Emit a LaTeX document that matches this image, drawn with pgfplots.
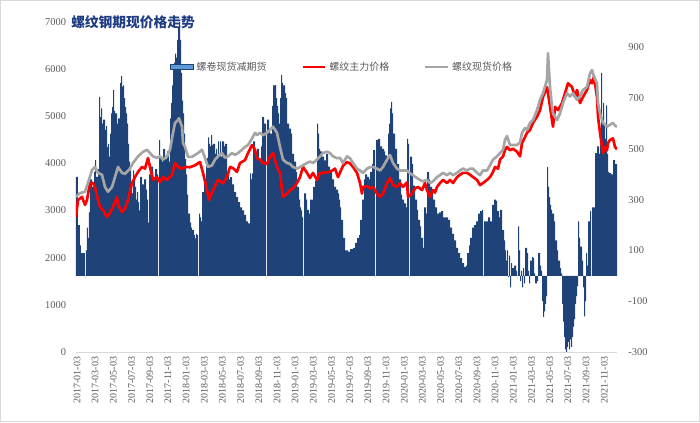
\documentclass[border=0pt]{standalone}
\usepackage{pgfplots}
\pgfplotsset{compat=1.18}
\usepackage{fontspec}
\setmainfont{Liberation Serif}
\newfontfamily\cjk{Noto Sans CJK SC}
\definecolor{navy}{RGB}{31,66,120}
\definecolor{barlight}{RGB}{91,155,213}
\definecolor{tickgray}{RGB}{89,89,89}
\definecolor{spotgray}{RGB}{165,165,165}
\definecolor{titleblue}{RGB}{31,60,130}
\definecolor{axisgray}{RGB}{217,217,217}
\begin{document}
\begin{tikzpicture}[x=0.75pt,y=0.75pt]
\pgfplotsset{
  base/.style={
    at={(0,0)}, anchor=south west, scale only axis,
    width=405.75pt, height=247.5pt,
    xmin=-0.11, xmax=59.4,
    /pgf/number format/assume math mode=true,
    /pgf/number format/1000 sep={},
    tick style={draw=none},
    tick label style={font=\fontsize{7.8}{9}\selectfont, text=tickgray},
  }
}
% right axis: basis (spot minus futures)
\begin{axis}[base,
  ymin=-300, ymax=1000,
  ytick={-300,-100,100,300,500,700,900},
  axis x line=none,
  axis y line*=right,
  y axis line style={draw=none},
  yticklabel style={xshift=5pt, anchor=west},
]
\addplot[const plot, fill=navy, draw=none] coordinates {
(-0.11,390)(0.11,200)(0.22,200)(0.33,120)(0.44,90)(0.66,90)(0.88,0)(0.99,100)(1.10,190)(1.21,150)(1.32,250)(1.43,380)(1.65,350)(1.87,410)(1.98,456)(2.09,390)(2.31,420)(2.42,705)(2.53,625)(2.64,660)(2.75,600)(2.86,615)(3.08,575)(3.19,590)(3.30,507)(3.41,520)(3.52,470)(3.63,560)(3.74,640)(3.85,665)(3.96,732)(4.07,650)(4.18,640)(4.40,600)(4.51,620)(4.73,760)(4.84,787)(4.95,745)(5.06,750)(5.17,700)(5.28,665)(5.39,640)(5.50,600)(5.61,520)(5.72,450)(5.83,415)(5.94,360)(6.05,325)(6.16,415)(6.27,380)(6.38,350)(6.49,300)(6.60,330)(6.71,290)(6.82,258)(6.93,390)(7.15,360)(7.37,380)(7.59,340)(7.70,300)(7.81,210)(7.92,400)(8.14,430)(8.36,390)(8.58,420)(8.80,400)(8.91,0)(9.02,535)(9.13,470)(9.35,450)(9.46,500)(9.68,460)(9.90,490)(10.12,450)(10.23,620)(10.34,680)(10.45,750)(10.56,810)(10.67,840)(10.78,875)(10.89,860)(11.00,930)(11.11,980)(11.22,1000)(11.33,930)(11.44,800)(11.55,690)(11.66,640)(11.77,560)(11.88,460)(11.99,400)(12.10,320)(12.21,245)(12.43,210)(12.54,190)(12.65,180)(12.87,160)(12.98,148)(13.09,165)(13.20,160)(13.31,0)(13.42,245)(13.53,230)(13.64,215)(13.75,330)(13.97,380)(14.19,440)(14.30,465)(14.41,545)(14.52,520)(14.63,510)(14.74,555)(14.85,515)(14.96,520)(15.18,480)(15.29,500)(15.40,460)(15.51,530)(15.62,480)(15.73,530)(15.84,470)(15.95,530)(16.17,510)(16.28,520)(16.50,400)(16.72,380)(16.83,389)(17.05,360)(17.27,330)(17.49,310)(17.71,290)(17.93,270)(18.15,258)(18.37,240)(18.59,215)(18.81,207)(19.03,404)(19.14,380)(19.25,404)(19.36,530)(19.58,480)(19.80,500)(20.02,460)(20.24,510)(20.35,625)(20.57,600)(20.79,0)(20.90,615)(21.12,580)(21.23,560)(21.45,670)(21.56,750)(21.78,751)(21.89,700)(22.00,670)(22.11,640)(22.22,600)(22.33,700)(22.44,791)(22.55,760)(22.66,750)(22.88,720)(22.99,700)(23.10,600)(23.32,580)(23.54,560)(23.65,480)(23.87,450)(24.09,410)(24.20,350)(24.42,300)(24.53,270)(24.64,258)(24.75,230)(24.86,0)(24.97,325)(25.19,300)(25.30,260)(25.52,245)(25.63,300)(25.85,300)(25.96,350)(26.18,375)(26.40,600)(26.51,560)(26.62,500)(26.73,490)(26.95,470)(27.17,455)(27.39,480)(27.61,430)(27.83,410)(28.05,380)(28.27,350)(28.49,340)(28.71,325)(28.82,300)(28.93,270)(29.04,220)(29.26,150)(29.48,100)(29.81,95)(30.03,105)(30.36,110)(30.58,130)(30.80,150)(31.02,160)(31.13,220)(31.35,300)(31.57,380)(31.68,400)(31.90,390)(32.12,380)(32.23,410)(32.45,440)(32.56,495)(32.78,0)(32.89,535)(33.11,540)(33.33,510)(33.55,500)(33.77,490)(33.88,475)(34.10,450)(34.21,560)(34.32,600)(34.43,660)(34.54,685)(34.65,640)(34.76,560)(34.98,500)(35.20,440)(35.42,380)(35.64,320)(35.75,300)(35.97,285)(36.19,270)(36.30,540)(36.41,520)(36.52,0)(36.63,470)(36.85,440)(36.96,355)(37.18,300)(37.40,260)(37.51,220)(37.73,195)(37.84,150)(38.06,110)(38.17,270)(38.39,245)(38.50,410)(38.72,380)(38.83,350)(39.05,325)(39.16,300)(39.38,270)(39.60,245)(39.82,250)(40.04,255)(40.26,230)(40.59,230)(40.81,220)(41.03,190)(41.25,165)(41.47,140)(41.69,110)(41.91,90)(42.13,70)(42.35,50)(42.57,35)(42.79,40)(42.90,90)(43.12,120)(43.23,150)(43.45,190)(43.67,200)(43.89,215)(44.11,245)(44.33,255)(44.55,260)(44.66,0)(44.77,215)(44.99,215)(45.21,230)(45.43,215)(45.65,280)(45.87,300)(46.09,295)(46.20,255)(46.42,230)(46.53,260)(46.75,180)(46.97,140)(47.08,100)(47.19,60)(47.30,100)(47.41,-5)(47.52,80)(47.63,-45)(47.74,50)(47.85,30)(48.07,40)(48.18,40)(48.29,20)(48.40,0)(48.51,195)(48.62,100)(48.73,-20)(48.84,20)(48.95,-45)(49.06,30)(49.17,-30)(49.28,110)(49.50,90)(49.61,20)(49.72,-30)(49.83,60)(50.05,75)(50.16,70)(50.27,10)(50.38,-30)(50.60,-20)(50.71,90)(50.93,40)(51.04,20)(51.15,-100)(51.26,-162)(51.37,-140)(51.48,-110)(51.59,-80)(51.70,428)(51.81,350)(51.92,310)(52.03,280)(52.14,260)(52.25,245)(52.47,215)(52.58,140)(52.80,100)(52.91,60)(53.13,30)(53.24,10)(53.35,-110)(53.46,-180)(53.57,-240)(53.68,-290)(53.79,-300)(53.90,-280)(54.01,-260)(54.12,-290)(54.23,-250)(54.34,-280)(54.45,-240)(54.56,-200)(54.67,-170)(54.78,-110)(54.89,-80)(55.00,-40)(55.11,215)(55.22,150)(55.33,115)(55.55,60)(55.66,-45)(55.77,-160)(55.88,-100)(55.99,90)(56.10,40)(56.21,215)(56.43,255)(56.54,0)(56.65,270)(56.87,270)(56.98,483)(57.20,510)(57.42,480)(57.53,570)(57.64,800)(57.75,610)(57.86,680)(57.97,600)(58.08,540)(58.19,672)(58.30,480)(58.41,410)(58.52,405)(58.74,400)(58.96,456)(59.18,440)(59.40,440)
} \closedcycle;
\end{axis}
% left axis: prices
\begin{axis}[base,
  ymin=0, ymax=7000,
  ytick={0,1000,...,7000},
  axis x line*=bottom, axis y line*=left,
  y axis line style={draw=none},
  x axis line style={draw=axisgray, line width=0.75pt},
  xtick={0,2,...,58},
  xticklabels={2017-01-03,2017-03-03,2017-05-03,2017-07-03,2017-09-03,2017-11-03,2018-01-03,2018-03-03,2018-05-03,2018-07-03,2018-09-03,2018-11-03,2019-01-03,2019-03-03,2019-05-03,2019-07-03,2019-09-03,2019-11-03,2020-01-03,2020-03-03,2020-05-03,2020-07-03,2020-09-03,2020-11-03,2021-01-03,2021-03-03,2021-05-03,2021-07-03,2021-09-03,2021-11-03},
  xticklabel style={rotate=90, anchor=east, font=\fontsize{7.5}{9}\selectfont},
  yticklabel style={xshift=-4pt},
  legend columns=3,
  legend style={at={(0.174,0.864)}, anchor=west, draw=none, fill=none, inner sep=0pt,
    font=\cjk\fontsize{7.5}{9}\selectfont, text=tickgray,
    /tikz/every even column/.append style={column sep=24pt}},
]
\addlegendimage{legend image code/.code={\draw[fill=barlight, draw=navy, line width=0.6pt] (0pt,-2.2pt) rectangle (17pt,2.2pt);}}
\addlegendentry{螺卷现货减期货}
\addplot[red, line width=2pt, line join=round] coordinates {
(-0.11,2864)(0.11,3225)(0.55,3290)(0.88,3120)(1.10,3225)(1.43,3585)(1.76,3585)(1.98,3500)(2.31,3225)(2.53,3080)(2.86,3010)(3.30,2865)(3.63,2950)(3.96,3080)(4.40,3290)(4.51,3120)(4.95,2970)(5.28,3040)(5.61,3225)(6.05,3585)(6.38,3710)(6.71,3820)(7.15,3925)(7.48,3890)(7.81,4115)(8.03,3925)(8.36,3650)(8.80,3710)(9.13,3600)(9.46,3710)(9.90,3650)(10.45,3760)(10.78,4010)(11.11,3925)(11.55,3890)(11.88,3925)(12.43,3920)(12.98,3960)(13.53,4030)(13.86,3800)(14.30,3435)(14.52,3225)(14.96,3435)(15.51,3650)(16.06,3580)(16.50,3710)(16.83,3925)(17.16,3900)(17.60,3820)(17.93,4010)(18.48,4070)(18.81,4220)(19.25,4390)(19.58,4290)(19.80,4115)(20.13,4080)(20.46,4010)(20.90,3990)(21.23,4140)(21.56,4220)(22.00,3925)(22.33,3800)(22.55,3435)(22.66,3290)(23.10,3360)(23.43,3435)(23.76,3470)(24.20,3585)(24.53,3710)(24.86,3925)(25.30,3800)(25.63,3690)(25.96,3800)(26.40,3650)(26.73,3800)(27.06,3800)(27.83,3820)(28.38,3890)(28.71,3710)(29.26,3950)(29.70,4030)(30.03,4000)(30.36,3925)(30.80,3800)(31.13,3585)(31.35,3360)(31.46,3500)(31.90,3520)(32.23,3470)(32.56,3500)(33.00,3360)(33.33,3290)(33.66,3360)(34.10,3585)(34.43,3690)(34.76,3540)(35.20,3500)(35.53,3585)(35.86,3500)(36.30,3600)(36.41,3290)(36.85,3360)(37.18,3470)(37.51,3500)(37.95,3435)(38.28,3585)(38.50,3435)(38.83,3290)(39.16,3435)(39.38,3380)(39.60,3500)(39.93,3585)(40.26,3650)(40.70,3585)(41.03,3650)(41.36,3585)(41.80,3710)(42.13,3760)(42.46,3800)(42.90,3800)(43.23,3760)(43.56,3710)(44.00,3650)(44.33,3540)(44.66,3585)(45.10,3650)(45.43,3710)(45.76,3820)(45.98,3925)(46.31,3890)(46.53,4080)(46.86,4150)(47.08,4285)(47.30,4350)(47.63,4280)(47.96,4310)(48.40,4250)(48.73,4150)(48.95,4430)(49.28,4560)(49.50,4650)(49.83,4710)(50.16,4860)(50.60,4990)(50.93,5130)(51.26,5410)(51.70,5620)(51.92,5350)(52.25,4920)(52.36,4780)(52.58,5200)(52.91,5130)(53.35,5280)(53.68,5490)(54.01,5700)(54.45,5620)(54.78,5410)(55.00,5560)(55.33,5280)(55.66,5410)(56.10,5560)(56.43,5770)(56.65,5700)(56.87,5840)(57.20,5410)(57.31,4990)(57.53,4650)(57.75,4350)(57.86,4220)(58.08,4350)(58.30,4280)(58.41,4430)(58.63,4500)(58.96,4530)(59.18,4350)(59.40,4300)
};
\addlegendentry{螺纹主力价格}
\addplot[spotgray, line width=2pt, line join=round] coordinates {
(-0.11,3290)(0.33,3370)(0.88,3400)(1.21,3585)(1.65,3860)(1.98,3925)(2.31,3800)(2.75,3760)(3.08,3500)(3.41,3400)(3.85,3500)(4.18,3710)(4.51,3925)(4.95,3800)(5.28,3780)(5.83,3890)(6.16,4010)(6.71,4150)(7.26,4245)(7.70,4290)(8.03,4220)(8.36,4150)(8.80,4120)(9.13,4150)(9.46,4080)(9.90,4150)(10.23,4290)(10.56,4650)(10.78,4860)(11.11,4920)(11.22,4960)(11.55,4780)(11.66,4430)(11.88,4350)(12.21,4140)(12.65,4140)(12.98,4180)(13.31,4220)(13.75,4290)(14.08,4120)(14.41,3925)(14.85,3960)(15.18,4080)(15.51,4150)(15.95,4220)(16.28,4120)(16.61,4150)(17.05,4220)(17.38,4180)(17.71,4220)(18.15,4290)(18.48,4350)(18.81,4390)(19.25,4530)(19.58,4650)(19.80,4600)(20.13,4650)(20.46,4600)(20.90,4650)(21.23,4710)(21.56,4780)(22.00,4650)(22.33,4350)(22.66,4080)(23.10,4010)(23.43,3990)(23.76,3925)(24.20,3890)(24.53,3925)(24.86,3960)(25.30,4010)(25.63,4040)(25.96,4010)(26.40,4080)(26.73,4150)(27.06,4220)(27.50,4250)(27.83,4220)(28.16,4150)(28.60,4110)(28.93,4120)(29.26,4010)(29.70,4150)(30.03,4110)(30.36,4010)(30.80,3890)(31.13,3850)(31.46,3800)(31.90,3890)(32.23,3920)(32.56,3925)(33.00,3890)(33.33,3850)(33.66,3925)(34.10,4080)(34.43,4180)(34.76,4010)(35.20,3890)(35.53,3850)(35.86,3850)(36.30,3850)(36.63,3790)(36.96,3750)(37.40,3690)(37.73,3650)(38.06,3620)(38.50,3650)(38.83,3585)(39.16,3620)(39.60,3710)(39.93,3750)(40.26,3800)(40.70,3750)(41.03,3800)(41.36,3750)(41.80,3800)(42.13,3850)(42.46,3890)(42.90,3850)(43.23,3890)(43.56,3890)(44.00,3800)(44.33,3750)(44.66,3850)(45.10,3850)(45.43,3960)(45.76,4080)(46.20,4150)(46.53,4220)(46.86,4290)(47.08,4500)(47.30,4580)(47.63,4390)(47.96,4390)(48.40,4390)(48.73,4450)(48.95,4650)(49.28,4750)(49.50,4710)(49.83,4860)(50.16,4920)(50.60,5130)(50.93,5350)(51.26,5490)(51.70,5770)(51.81,6340)(52.03,5620)(52.25,5200)(52.36,5060)(52.80,4920)(53.13,5060)(53.46,5280)(53.90,5490)(54.23,5420)(54.56,5490)(55.00,5350)(55.33,5420)(55.66,5560)(56.10,5620)(56.43,5910)(56.65,5980)(56.87,5840)(57.20,5700)(57.31,5280)(57.53,5060)(57.86,4860)(58.30,4780)(58.63,4820)(58.96,4860)(59.18,4800)(59.40,4780)
};
\addlegendentry{螺纹现货价格}
\end{axis}
\node[anchor=west, inner sep=0pt, text=titleblue, font=\cjk\bfseries\fontsize{10.3}{12}\selectfont] at (-5,330) {螺纹钢期现价格走势};
\draw[axisgray, line width=0.75pt] (-75.5,-69.5) rectangle (623.5,351.5);
\pgfresetboundingbox
\path[use as bounding box] (-76,-70) rectangle (624,352);
\end{tikzpicture}
\end{document}
